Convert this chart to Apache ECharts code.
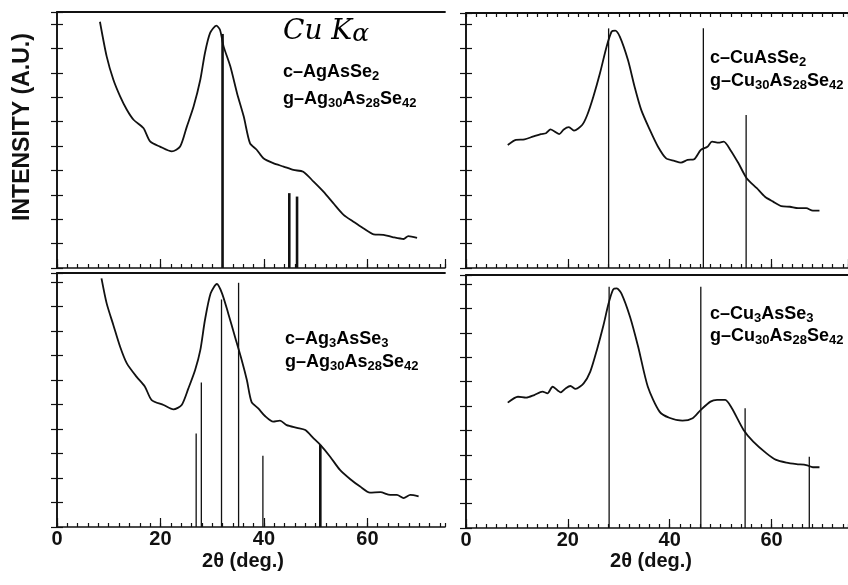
<!DOCTYPE html>
<html>
<head>
<meta charset="utf-8">
<script src="https://cdn.jsdelivr.net/npm/echarts@6/dist/echarts.min.js"></script>
<style>
  html, body { margin: 0; padding: 0; background: #fff; }
  #main { width: 848px; height: 585px; }
</style>
</head>
<body>
<div id="main"></div>
<script>
// --- data: [2θ, intensity] ---
const xTicks = [0, 20, 40, 60];

const tlCurve = [[8.3,10.1],[9.6,8.68],[10.9,7.72],[12.2,7.04],[13.5,6.49],[14.8,6.08],[16.7,5.74],[18.0,5.19],[19.9,4.98],[22.2,4.78],[23.8,4.98],[25.1,5.80],[26.4,6.62],[27.7,7.72],[28.6,8.82],[29.6,9.64],[30.8,9.94],[31.5,9.77],[32.2,9.09],[33.5,8.27],[34.8,7.17],[36.1,6.21],[37.3,5.12],[38.6,4.85],[39.9,4.50],[41.8,4.30],[43.8,4.16],[45.7,4.02],[47.6,3.95],[49.6,3.54],[51.5,3.13],[53.4,2.66],[55.4,2.18],[57.3,1.90],[59.2,1.63],[61.2,1.38],[63.1,1.36],[65.0,1.26],[67.0,1.19],[67.9,1.31],[69.6,1.24]];
const tlSticksBold = [[32.0,9.6],[44.9,3.07],[46.4,2.93]];

const trCurve = [[8.2,5.04],[9.8,5.25],[11.5,5.27],[13.1,5.38],[14.7,5.49],[15.7,5.52],[16.6,5.68],[18.3,5.49],[19.2,5.68],[20.2,5.77],[21.2,5.63],[22.8,5.86],[23.8,6.27],[25.0,7.02],[26.3,7.98],[27.6,9.07],[28.6,9.69],[29.3,9.73],[30.2,9.48],[31.8,8.52],[33.1,7.43],[34.4,6.48],[36.1,5.66],[37.7,4.97],[39.3,4.49],[40.9,4.39],[42.2,4.32],[43.5,4.43],[44.8,4.46],[46.1,4.84],[47.4,4.97],[48.3,5.18],[49.6,5.14],[50.6,5.18],[51.9,4.84],[53.5,4.29],[55.1,3.68],[57.1,3.27],[58.7,2.92],[60.3,2.72],[61.9,2.54],[63.6,2.51],[65.2,2.45],[66.8,2.45],[68.1,2.35],[69.4,2.35]];
const trSticks = [[28.0,9.82],[46.6,9.82],[55.0,6.27]];

const blCurve = [[8.6,10.15],[9.6,9.13],[10.9,8.24],[12.2,7.36],[13.5,6.68],[15.4,6.13],[17.0,5.73],[18.3,5.18],[20.6,4.98],[22.5,4.80],[24.1,4.98],[25.4,5.66],[26.7,6.41],[27.7,7.22],[28.6,8.45],[29.7,9.54],[30.9,9.92],[31.9,9.54],[33.1,8.72],[34.4,7.77],[35.7,6.82],[36.7,6.0],[37.6,5.11],[38.9,4.84],[40.2,4.53],[41.8,4.30],[43.1,4.34],[44.4,4.16],[46.4,4.05],[48.0,3.96],[49.6,3.62],[50.9,3.35],[52.8,2.87],[54.7,2.33],[56.7,1.95],[58.6,1.65],[60.5,1.40],[62.5,1.42],[64.4,1.31],[65.7,1.31],[67.0,1.18],[68.3,1.31],[69.9,1.25]];
const blSticks = [[26.9,3.82],[27.9,5.90],[31.8,9.29],[35.1,9.97],[39.8,2.91]];
const blSticksBold = [[50.9,3.35]];

const brCurve = [[8.2,5.14],[10.2,5.38],[11.8,5.34],[13.4,5.45],[15.0,5.59],[16.0,5.52],[17.0,5.79],[18.6,5.56],[19.6,5.73],[20.5,5.82],[21.5,5.70],[23.1,5.93],[24.4,6.41],[25.7,7.30],[27.0,8.32],[28.0,9.21],[28.9,9.78],[29.6,9.82],[30.5,9.62],[32.2,8.66],[33.8,7.43],[35.7,5.79],[38.0,4.77],[39.9,4.52],[42.5,4.40],[44.5,4.50],[46.1,4.84],[48.0,5.18],[49.3,5.25],[50.9,5.25],[52.2,4.91],[54.5,4.02],[56.4,3.54],[59.0,3.06],[60.9,2.79],[62.9,2.68],[64.9,2.62],[66.8,2.58],[68.1,2.49],[69.4,2.49]];
const brSticks = [[28.1,9.89],[46.1,9.89],[54.8,4.91],[67.4,2.92]];

const FONT = '"Liberation Sans", Arial, Helvetica, sans-serif';
const INK = '#111';

const panels = [
  { box: { left: 57, top: 12, width: 388, height: 256 }, ymax: 10.5, labels: false, topTicks: false, curve: tlCurve, thin: [], bold: tlSticksBold },
  { box: { left: 466, top: 13, width: 386, height: 255 }, ymax: 10.45, labels: false, topTicks: true, curve: trCurve, thin: trSticks, bold: [] },
  { box: { left: 57, top: 273, width: 388, height: 254 }, ymax: 10.37, labels: true, topTicks: false, curve: blCurve, thin: blSticks, bold: blSticksBold },
  { box: { left: 466, top: 275, width: 386, height: 253 }, ymax: 10.37, labels: true, topTicks: false, curve: brCurve, thin: brSticks, bold: [] },
];

function stickRenderer(width) {
  return function (params, api) {
    const p0 = api.coord([api.value(0), 0]);
    const p1 = api.coord([api.value(0), api.value(1)]);
    return {
      type: 'line',
      shape: { x1: p0[0], y1: p0[1], x2: p1[0], y2: p1[1] },
      style: { stroke: INK, lineWidth: width },
    };
  };
}

const grid = [], xAxis = [], yAxis = [], series = [];
const line = { lineStyle: { color: INK, width: 1.6 } };
const tick = (len, show = true) => ({ show, inside: true, length: len, lineStyle: { color: INK, width: 1.2 } });

panels.forEach((p, i) => {
  grid.push(p.box);
  // bottom axis: major ticks + labels
  xAxis.push({
    gridIndex: i, type: 'value', position: 'bottom', min: 0, max: 75, interval: 20,
    axisLine: { show: true, ...line }, axisTick: tick(9),
    axisLabel: {
      show: p.labels, margin: 2, fontSize: 20, fontWeight: 'bold', color: INK, fontFamily: FONT,
      showMaxLabel: false, formatter: v => (xTicks.includes(v) ? String(v) : ''),
    },
    splitLine: { show: false },
  });
  // bottom axis: minor ticks every 2 deg
  xAxis.push({
    gridIndex: i, type: 'value', position: 'bottom', min: 0, max: 75, interval: 2,
    axisLine: { show: false }, axisTick: tick(4), axisLabel: { show: false }, splitLine: { show: false },
  });
  // top frame
  xAxis.push({
    gridIndex: i, type: 'value', position: 'top', min: 0, max: 75, interval: 2,
    axisLine: { show: true, lineStyle: { color: INK, width: 1.8 } }, axisTick: tick(4, p.topTicks),
    axisLabel: { show: false }, splitLine: { show: false },
  });
  ['left', 'right'].forEach(pos => {
    yAxis.push({
      gridIndex: i, type: 'value', position: pos, min: 0, max: p.ymax, interval: 1,
      axisLine: { show: true, ...line }, axisTick: tick(6), axisLabel: { show: false }, splitLine: { show: false },
    });
  });
  series.push({
    type: 'line', xAxisIndex: i * 3, yAxisIndex: i * 2, data: p.curve,
    symbol: 'none', smooth: 0.25, lineStyle: { color: INK, width: 1.8 }, z: 3,
  });
  series.push({
    type: 'custom', xAxisIndex: i * 3, yAxisIndex: i * 2, data: p.thin,
    encode: { x: 0, y: 1 }, renderItem: stickRenderer(1.3), z: 2,
  });
  series.push({
    type: 'custom', xAxisIndex: i * 3, yAxisIndex: i * 2, data: p.bold,
    encode: { x: 0, y: 1 }, renderItem: stickRenderer(2.6), z: 2,
  });
});

const rich = {
  m: { fontSize: 18, fontWeight: 'bold', fontFamily: FONT, color: INK, lineHeight: 22, verticalAlign: 'middle' },
  s: { fontSize: 13, fontWeight: 'bold', fontFamily: FONT, color: INK, lineHeight: 8, verticalAlign: 'bottom' },
};
function formula(x, y, text) {
  return { type: 'text', x, y, style: { text, rich, verticalAlign: 'middle', align: 'left' } };
}
const axisTitle = x => ({
  type: 'text', x, y: 561,
  style: { text: '2θ (deg.)', fontSize: 20, fontWeight: 'bold', fontFamily: FONT, fill: INK, align: 'center', verticalAlign: 'middle' },
});

const graphic = [
  {
    type: 'text', x: 23, y: 127, rotation: Math.PI / 2,
    style: { text: 'INTENSITY (A.U.)', fontSize: 23, fontWeight: 'bold', fontFamily: FONT, fill: INK, align: 'center', verticalAlign: 'middle' },
  },
  axisTitle(243),
  axisTitle(651),
  {
    type: 'text', x: 283, y: 32,
    style: {
      text: '{a|Cu K}{b|α}', verticalAlign: 'middle',
      rich: {
        a: { fontSize: 28, fontStyle: 'italic', fontFamily: '"DejaVu Serif", serif', color: INK, lineHeight: 30, verticalAlign: 'middle' },
        b: { fontSize: 25, fontStyle: 'italic', fontFamily: '"DejaVu Serif", serif', color: INK, lineHeight: 24, verticalAlign: 'bottom' },
      },
    },
  },
  formula(283, 72, '{m|c–AgAsSe}{s|2}'),
  formula(283, 99, '{m|g–Ag}{s|30}{m|As}{s|28}{m|Se}{s|42}'),
  formula(710, 58, '{m|c–CuAsSe}{s|2}'),
  formula(710, 81, '{m|g–Cu}{s|30}{m|As}{s|28}{m|Se}{s|42}'),
  formula(285, 339, '{m|c–Ag}{s|3}{m|AsSe}{s|3}'),
  formula(285, 362, '{m|g–Ag}{s|30}{m|As}{s|28}{m|Se}{s|42}'),
  formula(710, 314, '{m|c–Cu}{s|3}{m|AsSe}{s|3}'),
  formula(710, 336, '{m|g–Cu}{s|30}{m|As}{s|28}{m|Se}{s|42}'),
];

const chart = echarts.init(document.getElementById('main'));
chart.setOption({ animation: false, backgroundColor: '#fff', grid, xAxis, yAxis, series, graphic });
</script>
</body>
</html>
